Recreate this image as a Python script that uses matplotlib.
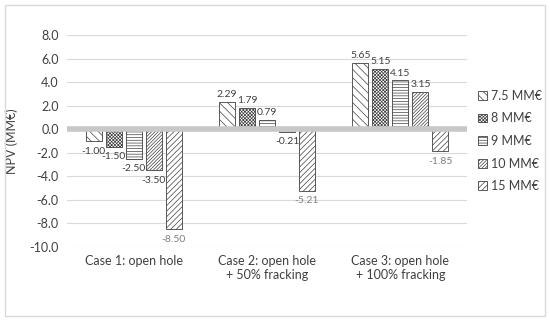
import matplotlib.pyplot as plt
import numpy as np
from matplotlib.patches import Rectangle

plt.rcParams['font.family'] = ['Lato', 'DejaVu Sans']
plt.rcParams['hatch.linewidth'] = 0.5
plt.rcParams['hatch.color'] = '#404040'

cases = ['Case 1: open hole', 'Case 2: open hole\n+ 50% fracking', 'Case 3: open hole\n+ 100% fracking']
series = ['7.5 MM€', '8 MM€', '9 MM€', '10 MM€', '15 MM€']
npv_75 = [-1.00, 2.29, 5.65]
npv_8 = [-1.50, 1.79, 5.15]
npv_9 = [-2.50, 0.79, 4.15]
npv_10 = [-3.50, -0.21, 3.15]
npv_15 = [-8.50, -5.21, -1.85]
values = [npv_75, npv_8, npv_9, npv_10, npv_15]
hatches = ['\\\\\\\\', 'xxxxxxxxxx', '------', '//////////', '//////']
label_cols = ['#404040', '#404040', '#404040', '#404040', '#7f7f7f']

fig = plt.figure(figsize=(5.5, 3.21), dpi=100)
fig.patches.append(Rectangle((0.009, 0.016), 0.982, 0.968, transform=fig.transFigure,
                             fill=False, edgecolor='#d9d9d9', lw=1))
ax = fig.add_axes([0.122, 0.2305, 0.727, 0.6605])

x = np.arange(len(cases))
w = 0.75 / 5
for i, (name, vals) in enumerate(zip(series, values)):
    pos = x - 0.375 + w * (i + 0.5)
    ax.bar(pos, vals, width=w * 0.8, color='white', edgecolor='#404040', lw=0.6,
           hatch=hatches[i], label=name, zorder=2)
    for p, v in zip(pos, vals):
        off = 2 if v >= 0 else -4
        ax.annotate('%.2f' % v, (p, v), xytext=(0, off), textcoords='offset points',
                    ha='center', va='bottom' if v >= 0 else 'top', fontsize=7.5,
                    color=label_cols[i])

ax.axhline(0, color='#c8c8c8', lw=4, zorder=3)
ax.set_ylim(-10, 8)
ax.set_xlim(-0.5, 2.5)
ax.set_yticks(np.arange(-10, 9, 2))
ax.set_yticklabels(['%.1f' % t for t in np.arange(-10, 9, 2)])
ax.set_xticks(x)
ax.set_xticklabels(cases)
ax.yaxis.grid(True, color='#d9d9d9', lw=0.8)
ax.set_axisbelow(True)
for s in ax.spines.values():
    s.set_visible(False)
ax.tick_params(length=0, labelsize=9, colors='#404040', pad=6)
ax.set_ylabel('NPV (MM€)', fontsize=9, color='#404040', labelpad=8)

ax.legend(loc='center left', bbox_to_anchor=(1.0, 0.5), frameon=False, fontsize=9,
          handlelength=0.7, handleheight=0.7, handletextpad=0.3, labelspacing=0.85,
          labelcolor='#404040')

fig.savefig('out.png', dpi=100)
